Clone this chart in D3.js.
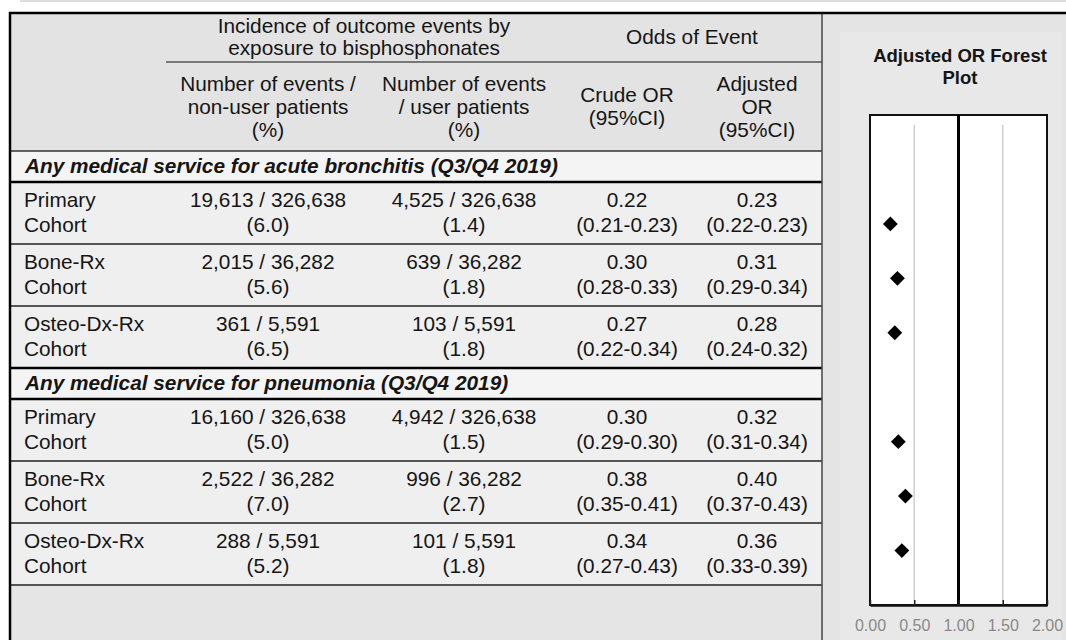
<!DOCTYPE html>
<html>
<head>
<meta charset="utf-8">
<script src="https://cdn.jsdelivr.net/npm/d3@7"></script>
<style>
    body { margin: 0; background: #fff; }
    svg text { font-family: 'Liberation Sans', Arial, sans-serif; fill: #151515; }
</style>
</head>
<body>
<svg id="chart" width="1066" height="640"></svg>
<script>

// outcome sections and cohorts (3 cohorts per section)
const outcomes = ['Any medical service for acute bronchitis (Q3/Q4 2019)', 'Any medical service for pneumonia (Q3/Q4 2019)']
const cohorts = ['Primary', 'Bone-Rx', 'Osteo-Dx-Rx']

// one entry per row, in table order
const nonUserEvents = [19613, 2015, 361, 16160, 2522, 288]
const userEvents = [4525, 639, 103, 4942, 996, 101]
const patients = [326638, 36282, 5591, 326638, 36282, 5591]
const nonUserPct = [6.0, 5.6, 6.5, 5.0, 7.0, 5.2]
const userPct = [1.4, 1.8, 1.8, 1.5, 2.7, 1.8]
const crudeOR = [0.22, 0.30, 0.27, 0.30, 0.38, 0.34]
const crudeLow = [0.21, 0.28, 0.22, 0.29, 0.35, 0.27]
const crudeHigh = [0.23, 0.33, 0.34, 0.30, 0.41, 0.43]
const adjOR = [0.23, 0.31, 0.28, 0.32, 0.40, 0.36]
const adjLow = [0.22, 0.29, 0.24, 0.31, 0.37, 0.33]
const adjHigh = [0.23, 0.34, 0.32, 0.34, 0.43, 0.39]

// forest plot axis
const xTicks = [0, 0.5, 1, 1.5, 2]
const gridValues = [0.5, 1.5]
const refValue = 1

const svg = d3.select('#chart')
const fmtN = d3.format(',')
const fmt2 = d3.format('.2f')
const fmt1 = d3.format('.1f')

////////////////////////////////
/// table layout
////////////////////////////////
const tLeft = 10, tRight = 822, tTop = 13
const head1 = 49, head2 = 89, sectionH = 31, rowH = 62
const colX = [24, 268, 464, 627, 757] //label left edge + column centres
const fontSize = 20.8

// build row list with y positions
let rows = []
let yCur = tTop + head1 + head2
outcomes.forEach(function(o, s){
    rows.push({'type': 'section', 'text': o, 'y': yCur, 'h': sectionH})
    yCur += sectionH
    cohorts.forEach(function(c, k){
        let i = s * cohorts.length + k
        rows.push({
            'type': 'data', 'y': yCur, 'h': rowH,
            'cells': [
                [c, 'Cohort'],
                [fmtN(nonUserEvents[i]) + ' / ' + fmtN(patients[i]), '(' + fmt1(nonUserPct[i]) + ')'],
                [fmtN(userEvents[i]) + ' / ' + fmtN(patients[i]), '(' + fmt1(userPct[i]) + ')'],
                [fmt2(crudeOR[i]), '(' + fmt2(crudeLow[i]) + '-' + fmt2(crudeHigh[i]) + ')'],
                [fmt2(adjOR[i]), '(' + fmt2(adjLow[i]) + '-' + fmt2(adjHigh[i]) + ')']
            ]
        })
        yCur += rowH
    })
})
const tableEnd = yCur

// top strip
svg.append('rect').attr('x', 20).attr('y', 0).attr('width', 1046).attr('height', 2).attr('fill', '#dcdcdc')

// header back
svg.append('rect')
.attr('x', tLeft).attr('y', tTop)
.attr('width', tRight - tLeft).attr('height', head1 + head2)
.attr('fill', '#e3e3e3')

// row backs
svg.selectAll('rowback')
.data(rows)
.enter()
.append('rect')
.attr('x', tLeft)
.attr('y', d => d.y)
.attr('width', tRight - tLeft)
.attr('height', d => d.h)
.attr('fill', d => d.type == 'section' ? '#f4f4f4' : '#efefef')

// empty area under table
svg.append('rect')
.attr('x', tLeft).attr('y', tableEnd)
.attr('width', tRight - tLeft).attr('height', 640 - tableEnd)
.attr('fill', '#e5e5e5')

// forest panel back
svg.append('rect')
.attr('x', tRight).attr('y', tTop)
.attr('width', 1066 - tRight).attr('height', 640 - tTop)
.attr('fill', '#e4e4e4')

svg.append('rect')
.attr('x', 840).attr('y', 32)
.attr('width', 222).attr('height', 640 - 32)
.attr('fill', '#e8e8e8')

////////////////////////////////
/// header text
////////////////////////////////
function multiline(x, baselines, lines, opts){
    opts = opts || {}
    lines.forEach(function(t, i){
        svg.append('text')
        .attr('x', x)
        .attr('y', baselines[i])
        .attr('text-anchor', opts.anchor || 'middle')
        .attr('font-size', opts.size || fontSize)
        .attr('font-weight', opts.weight || 'normal')
        .attr('font-style', opts.style || 'normal')
        .text(t)
    })
}

multiline(364, [33, 55], ['Incidence of outcome events by', 'exposure to bisphosphonates'])
multiline(692, [44], ['Odds of Event'])
multiline(colX[1], [91, 114, 137], ['Number of events /', 'non-user patients', '(%)'])
multiline(colX[2], [91, 114, 137], ['Number of events', '/ user patients', '(%)'])
multiline(colX[3], [102, 125], ['Crude OR', '(95%CI)'])
multiline(colX[4], [91, 114, 137], ['Adjusted', 'OR', '(95%CI)'])

////////////////////////////////
/// body text
////////////////////////////////
rows.forEach(function(r){
    if(r.type == 'section'){
        multiline(25, [r.y + 22], [r.text], {'anchor': 'start', 'weight': 'bold', 'style': 'italic'})
    }
    else{
        r.cells.forEach(function(c, j){
            multiline(colX[j], [r.y + 25, r.y + 50], c, {'anchor': j == 0 ? 'start' : 'middle'})
        })
    }
})

////////////////////////////////
/// table lines
////////////////////////////////
function hline(y, x1, x2, w, col){
    svg.append('line')
    .attr('x1', x1).attr('x2', x2)
    .attr('y1', y).attr('y2', y)
    .attr('stroke', col).attr('stroke-width', w)
}

hline(tTop + head1, 166, tRight, 1.5, '#555')
hline(tTop + head1 + head2, tLeft, tRight, 1.5, '#333')
rows.forEach(function(r){
    hline(r.y + r.h, tLeft, tRight, r.type == 'section' ? 2.5 : 1.5, r.type == 'section' ? '#000' : '#222')
})
// line above second section is heavier
rows.forEach(function(r, i){
    if(r.type == 'section' && i > 0) hline(r.y, tLeft, tRight, 2.5, '#000')
})

svg.append('line')
.attr('x1', tRight).attr('x2', tRight)
.attr('y1', tTop).attr('y2', 640)
.attr('stroke', '#444').attr('stroke-width', 1.5)

svg.append('line')
.attr('x1', tLeft).attr('x2', tLeft)
.attr('y1', tTop - 1).attr('y2', 640)
.attr('stroke', '#000').attr('stroke-width', 2.5)

hline(tTop, tLeft - 1, 1066, 2.5, '#000')

////////////////////////////////
/// forest plot
////////////////////////////////
const plotL = 870, plotR = 1047, plotT = 115, plotB = 605

svg.append('text')
.attr('x', 960).attr('y', 62)
.attr('text-anchor', 'middle')
.attr('font-size', 18.5)
.attr('font-weight', 'bold')
.text('Adjusted  OR Forest')

svg.append('text')
.attr('x', 960).attr('y', 84)
.attr('text-anchor', 'middle')
.attr('font-size', 18.5)
.attr('font-weight', 'bold')
.text('Plot')

let x = d3.scaleLinear().domain([0, 2]).range([plotL, plotR])
let slots = cohorts.length * outcomes.length + outcomes.length + 1
let yScale = d3.scaleLinear().domain([0, slots]).range([plotT, plotB])

let plot = svg.append('g')

plot.append('rect')
.attr('x', plotL).attr('y', plotT)
.attr('width', plotR - plotL).attr('height', plotB - plotT)
.attr('fill', '#fff')
.attr('stroke', '#111')
.attr('stroke-width', 2)

plot.selectAll('grid')
.data(gridValues)
.enter()
.append('line')
.attr('x1', d => x(d)).attr('x2', d => x(d))
.attr('y1', plotT + 10).attr('y2', plotB)
.attr('stroke', '#cfcfcf')
.attr('stroke-width', 1.5)

plot.append('line')
.attr('x1', x(refValue)).attr('x2', x(refValue))
.attr('y1', plotT).attr('y2', plotB)
.attr('stroke', '#000')
.attr('stroke-width', 3)

let axis = d3.axisBottom(x)
    .tickValues(xTicks)
    .tickFormat(fmt2)
    .tickSizeInner(-5)
    .tickSizeOuter(0)
    .tickPadding(15)

let ax = plot.append('g')
.attr('transform', 'translate(0,' + plotB + ')')
.call(axis)

ax.select('.domain').attr('stroke', '#111').attr('stroke-width', 2.5)
ax.selectAll('.tick line').attr('stroke', '#222').attr('stroke-width', 1.5)
ax.selectAll('.tick text')
.attr('font-size', 16)
.attr('font-family', "'Liberation Sans', Arial, sans-serif")
.style('fill', '#888')

// diamonds at adjusted OR; empty slot between the two outcome groups
let diamond = d3.symbol().type(d3.symbolSquare).size(110)

plot.selectAll('pt')
.data(adjOR)
.enter()
.append('path')
.attr('d', diamond)
.attr('fill', '#000')
.attr('transform', function(d, i){
    let slot = 2 + i + Math.floor(i / cohorts.length)
    return 'translate(' + x(d) + ',' + yScale(slot) + ') rotate(45)'
})

</script>
</body>
</html>
